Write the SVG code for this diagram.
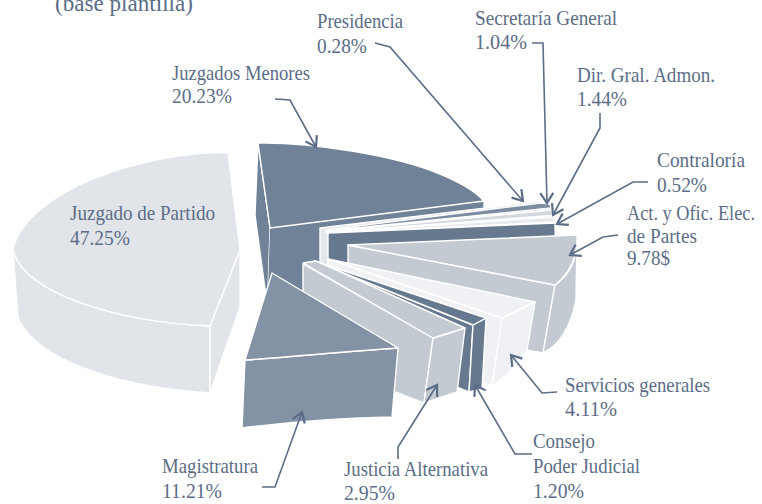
<svg xmlns="http://www.w3.org/2000/svg" width="762" height="504" viewBox="0 0 762 504">
<style>
.e{stroke:#ffffff;stroke-width:1.4;stroke-linejoin:round}
.jp{fill:#e1e4e9}
.jm{fill:#6f8297}
.mg{fill:#8492a5}
.lg{fill:#c4cad2}
.dk{fill:#67798f}
.vl{fill:#eff1f4}
.t{font-family:"Liberation Serif","Times New Roman",serif;font-size:21px;fill:#5b6d87}
.c{fill:none;stroke:#5b6d87;stroke-width:1.6;marker-end:url(#ah)}
</style>
<defs>
<marker id="ah" markerUnits="userSpaceOnUse" markerWidth="16" markerHeight="16" viewBox="-13 -8 16 16" refX="0" refY="0" orient="auto">
<path d="M-10,-6.5 L0,0 L-10,6.5" fill="none" stroke="#5b6d87" stroke-width="2.2"/>
</marker>
</defs>
<rect width="762" height="504" fill="#ffffff"/>
<text class="t" x="55" y="11" style="font-size:24px" textLength="138" lengthAdjust="spacingAndGlyphs">(base plantilla)</text>

<g id="juzgado-partido">
<path class="jp e" d="M13,250 C25,295 120,322 210,326 L210,393 C130,388 40,365 18,318 Z"/>
<path class="jp e" d="M240,250 L210,326 L210,393 L240,307 Z"/>
<path class="jp e" d="M228,153 C150,150 25,190 13,250 C25,295 120,322 210,326 L240,250 Z"/>
</g>

<g id="juzgados-menores">
<path class="jm e" d="M258,143 L270,228 L268,292 L265,289 L255,215 Z"/>
<path class="jm" d="M270,228 L484,201 L484,285 L300,302 L268,292 Z"/>
<path class="e" fill="none" d="M484,201 L484,210"/>
<path class="jm e" d="M258,143 C310,142 395,155 440,174 C462,183 476,192 484,201 L270,228 Z"/>
</g>

<g id="presidencia">
<path class="e" fill="#e4e8ed" d="M320,228 L486,208 L538,201 L552,204 L556,236 L556,300 L320,300 Z"/>
</g>
<g id="secretaria-general">
<path class="e" fill="#7c8ca1" d="M326,230 L541,203 L550,204 L551,208 L326,231 Z"/>
</g>
<g id="dir-gral-admon">
<path class="e" fill="#d3d8df" d="M326,231.5 L552,210 L552,215.5 L326,232.3 Z"/>
</g>
<g id="contraloria">
<path class="e" fill="#e6e9ee" d="M326,232.5 L553,217 L554,222 L326,233 Z"/>
<path class="dk e" d="M328,233 L555,223 L556,300 L328,300 Z"/>
</g>

<g id="act-ofic-elec">
<path class="lg e" d="M348,245 L555,285 L543,353 L348,320 Z"/>
<path class="lg e" d="M555,285 C568,276 577,262 577,240 L576,300 C570,330 558,346 543,353 Z"/>
<path class="lg e" d="M348,245 L577,235 C578,258 570,273 555,285 Z"/>
</g>

<g id="servicios-generales">
<path class="vl e" d="M328,259 L502,318 L492,386 L328,330 Z"/>
<path class="vl e" d="M502,318 L535,302 L527,350 C515,367 505,378 492,386 Z"/>
<path class="vl e" d="M328,259 L535,302 L502,318 Z"/>
</g>

<g id="consejo-poder-judicial">
<path class="dk e" d="M314,261 L473,325 L469,392 L314,330 Z"/>
<path class="dk e" d="M473,325 L486,318 L482,389 L469,392 Z"/>
<path class="dk e" d="M314,261 L486,318 L473,325 Z"/>
</g>

<g id="justicia-alternativa">
<path class="lg e" d="M303,264 L433,338 L424,403 L303,357 Z"/>
<path class="lg e" d="M433,338 L465,328 L457,392 L424,403 Z"/>
<path class="lg e" d="M303,263 L316,261 L465,328 L433,338 Z"/>
</g>

<g id="magistratura">
<path class="mg e" d="M245,360 C290,357 350,351 398,348 L392,417 C340,418 290,422 242,428 Z"/>
<path class="mg e" d="M272,273 L398,348 C350,351 290,357 245,360 Z"/>
</g>

<g id="connectors">
<path class="c" d="M275,99 L290,100 L316,147"/>
<path class="c" d="M375,43 L390,47 L523,201"/>
<path class="c" d="M532,43 L543,43 L547,203"/>
<path class="c" d="M600,113 L600,128 L553,215"/>
<path class="c" d="M648,182 L633,182 L557,224"/>
<path class="c" d="M618,235 L603,237 L570,255"/>
<path class="c" d="M557,392 L542,393 L511,355"/>
<path class="c" d="M532,454 L515,454 L475,385"/>
<path class="c" d="M398,459 L398,447 L437,385"/>
<path class="c" d="M262,487 L275,487 L302,412"/>
</g>

<g id="labels">
<text class="t" x="317" y="28" textLength="86" lengthAdjust="spacingAndGlyphs">Presidencia</text>
<text class="t" x="317" y="53" textLength="50" lengthAdjust="spacingAndGlyphs">0.28%</text>
<text class="t" x="475" y="25" textLength="142" lengthAdjust="spacingAndGlyphs">Secretaría General</text>
<text class="t" x="475" y="49" textLength="52" lengthAdjust="spacingAndGlyphs">1.04%</text>
<text class="t" x="577" y="82" textLength="138" lengthAdjust="spacingAndGlyphs">Dir. Gral. Admon.</text>
<text class="t" x="577" y="106" textLength="50" lengthAdjust="spacingAndGlyphs">1.44%</text>
<text class="t" x="657" y="167" textLength="88" lengthAdjust="spacingAndGlyphs">Contraloría</text>
<text class="t" x="657" y="192" textLength="50" lengthAdjust="spacingAndGlyphs">0.52%</text>
<text class="t" x="627" y="220" textLength="128" lengthAdjust="spacingAndGlyphs">Act. y Ofic. Elec.</text>
<text class="t" x="627" y="243" textLength="70" lengthAdjust="spacingAndGlyphs">de Partes</text>
<text class="t" x="627" y="265" textLength="43" lengthAdjust="spacingAndGlyphs">9.78$</text>
<text class="t" x="565" y="392" textLength="145" lengthAdjust="spacingAndGlyphs">Servicios generales</text>
<text class="t" x="565" y="416" textLength="52" lengthAdjust="spacingAndGlyphs">4.11%</text>
<text class="t" x="533" y="448" textLength="62" lengthAdjust="spacingAndGlyphs">Consejo</text>
<text class="t" x="533" y="473" textLength="107" lengthAdjust="spacingAndGlyphs">Poder Judicial</text>
<text class="t" x="533" y="498" textLength="51" lengthAdjust="spacingAndGlyphs">1.20%</text>
<text class="t" x="344" y="476" textLength="144" lengthAdjust="spacingAndGlyphs">Justicia Alternativa</text>
<text class="t" x="344" y="500" textLength="51" lengthAdjust="spacingAndGlyphs">2.95%</text>
<text class="t" x="162" y="473" textLength="96" lengthAdjust="spacingAndGlyphs">Magistratura</text>
<text class="t" x="162" y="498" textLength="60" lengthAdjust="spacingAndGlyphs">11.21%</text>
<text class="t" x="172" y="80" textLength="138" lengthAdjust="spacingAndGlyphs">Juzgados Menores</text>
<text class="t" x="172" y="103" textLength="60" lengthAdjust="spacingAndGlyphs">20.23%</text>
<text class="t" x="70" y="220" textLength="145" lengthAdjust="spacingAndGlyphs">Juzgado de Partido</text>
<text class="t" x="70" y="245" textLength="60" lengthAdjust="spacingAndGlyphs">47.25%</text>
</g>
</svg>
